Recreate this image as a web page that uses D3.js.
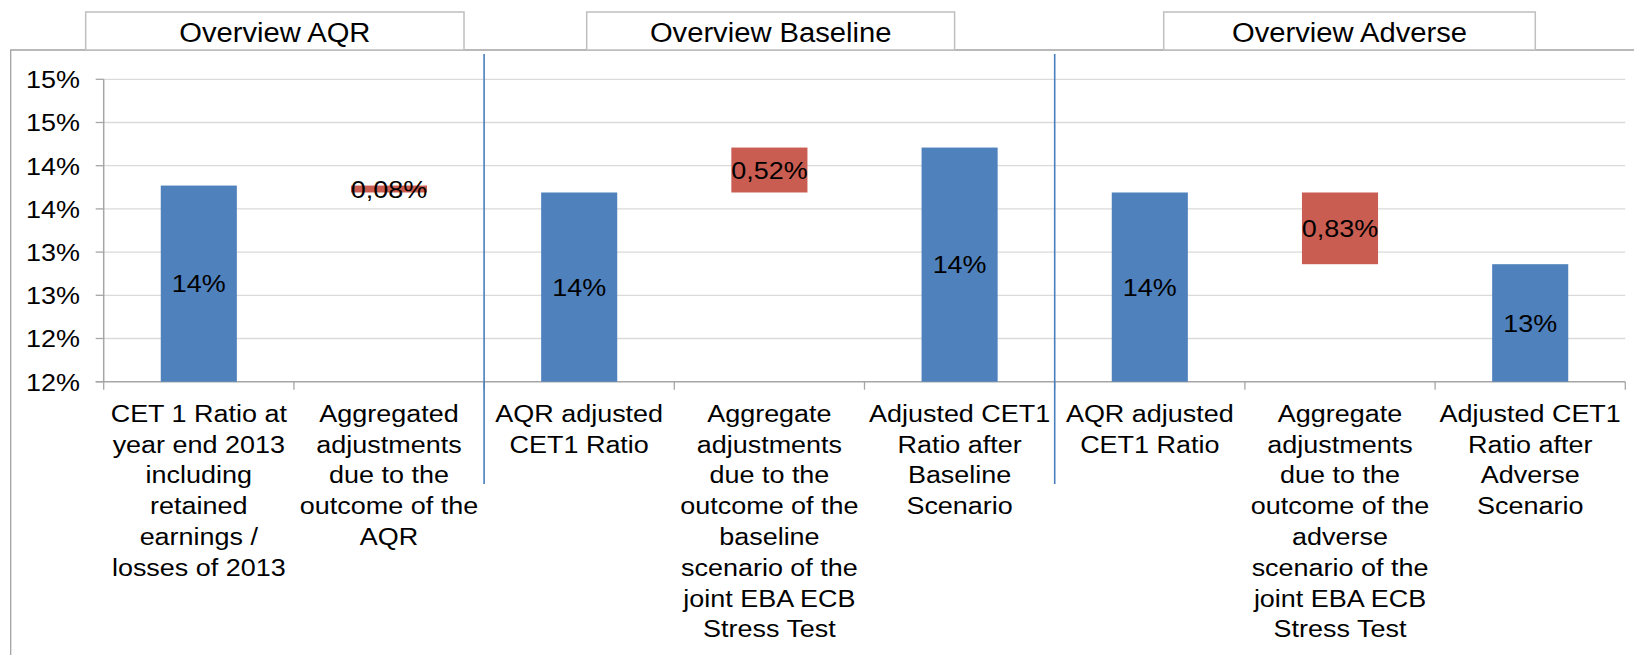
<!DOCTYPE html>
<html>
<head>
<meta charset="utf-8">
<script src="https://cdn.jsdelivr.net/npm/d3@7"></script>
<style>
  html, body { margin: 0; padding: 0; background: #fff; }
  svg { display: block; font-family: "Liberation Sans", Arial, Helvetica, sans-serif; }
</style>
</head>
<body>
<svg id="chart" width="1634" height="655"></svg>
<script>
// CET1 ratio walk: starting ratio, AQR adjustment, then baseline and adverse stress outcomes (in %)
const categories = [
  ["CET 1 Ratio at", "year end 2013", "including", "retained", "earnings /", "losses of 2013"],
  ["Aggregated", "adjustments", "due to the", "outcome of the", "AQR"],
  ["AQR adjusted", "CET1 Ratio"],
  ["Aggregate", "adjustments", "due to the", "outcome of the", "baseline", "scenario of the", "joint EBA ECB", "Stress Test"],
  ["Adjusted CET1", "Ratio after", "Baseline", "Scenario"],
  ["AQR adjusted", "CET1 Ratio"],
  ["Aggregate", "adjustments", "due to the", "outcome of the", "adverse", "scenario of the", "joint EBA ECB", "Stress Test"],
  ["Adjusted CET1", "Ratio after", "Adverse", "Scenario"]
];
// level bars (null where the step is an adjustment)
const totals = [13.77, null, 13.69, null, 14.21, 13.69, null, 12.86];
// adjustment bars, measured from the preceding level
const deltas = [null, -0.08, null, 0.52, null, null, -0.83, null];
// each adjustment starts from this level column
const deltaFrom = [null, 0, null, 2, null, null, 5, null];

const yTickValues = [11.5, 12.0, 12.5, 13.0, 13.5, 14.0, 14.5, 15.0];
const yTickLabels = ["12%", "12%", "13%", "13%", "14%", "14%", "15%", "15%"];

const panelTitles = ["Overview AQR", "Overview Baseline", "Overview Adverse"];
const panelBoxes = [[85.7, 464], [586.7, 954.6], [1163.7, 1535.3]];
// separators sit after these category counts
const separatorsAfter = [2, 5];

const BLUE = "#4F81BD", RED = "#CA5D51";
const svg = d3.select("#chart");

const x = d3.scaleBand().domain(d3.range(categories.length))
  .range([103.7, 1625.3]).paddingInner(0.6).paddingOuter(0.3);
const y = d3.scaleLinear().domain([11.5, 15.0]).range([381.7, 79.3]);
const x0 = x.range()[0], step = x.step();

// text drawn with a slight horizontal stretch
function stretchedText(g, tx, ty, str, size, anchor, sx) {
  return g.append("text")
    .attr("transform", `translate(${tx},${ty}) scale(${sx},1)`)
    .attr("text-anchor", anchor)
    .attr("font-size", size)
    .attr("fill", "#000")
    .text(str);
}

// chart frame
svg.append("path")
  .attr("d", "M10.7,660 V50 H1640")
  .attr("fill", "none").attr("stroke", "#a3a3a3").attr("stroke-width", 1.3);

// gridlines
svg.append("g").selectAll("line")
  .data(yTickValues.slice(1))
  .join("line")
  .attr("x1", x0).attr("x2", x.range()[1])
  .attr("y1", d => y(d)).attr("y2", d => y(d))
  .attr("stroke", "#dadada").attr("stroke-width", 1.3);

// y axis
const yAxis = svg.append("g");
yAxis.append("line")
  .attr("x1", x0).attr("x2", x0).attr("y1", y(15.0)).attr("y2", y(11.5))
  .attr("stroke", "#a6a6a6").attr("stroke-width", 1.5);
yAxis.selectAll("line.tick")
  .data(yTickValues).join("line").attr("class", "tick")
  .attr("x1", x0 - 8).attr("x2", x0)
  .attr("y1", d => y(d)).attr("y2", d => y(d))
  .attr("stroke", "#a6a6a6").attr("stroke-width", 1.3);
yTickValues.forEach((v, i) => {
  stretchedText(yAxis, 80, y(v) + 8.8, yTickLabels[i], 24.5, "end", 1.1);
});

// x axis
const xAxis = svg.append("g");
xAxis.append("line")
  .attr("x1", x0 - 8).attr("x2", x.range()[1]).attr("y1", y(11.5)).attr("y2", y(11.5))
  .attr("stroke", "#a6a6a6").attr("stroke-width", 1.5);
xAxis.selectAll("line.tick")
  .data(d3.range(categories.length + 1)).join("line").attr("class", "tick")
  .attr("x1", i => x0 + i * step).attr("x2", i => x0 + i * step)
  .attr("y1", y(11.5)).attr("y2", y(11.5) + 8)
  .attr("stroke", "#a6a6a6").attr("stroke-width", 1.3);
categories.forEach((lines, i) => {
  const cx = x(i) + x.bandwidth() / 2;
  lines.forEach((ln, k) => {
    stretchedText(xAxis, cx, y(11.5) + 40 + k * 30.8, ln, 24.5, "middle", 1.1);
  });
});

// level bars
const levels = totals.map((v, i) => ({ i, v })).filter(d => d.v !== null);
svg.append("g").selectAll("rect")
  .data(levels).join("rect")
  .attr("x", d => x(d.i)).attr("width", x.bandwidth())
  .attr("y", d => y(d.v)).attr("height", d => y(11.5) - y(d.v))
  .attr("fill", BLUE);

// adjustment bars
const steps = deltas.map((v, i) => ({ i, v, from: deltaFrom[i] !== null ? totals[deltaFrom[i]] : null }))
  .filter(d => d.v !== null);
svg.append("g").selectAll("rect")
  .data(steps).join("rect")
  .attr("x", d => x(d.i)).attr("width", x.bandwidth())
  .attr("y", d => y(Math.max(d.from, d.from + d.v)))
  .attr("height", d => Math.abs(y(d.from) - y(d.from + d.v)))
  .attr("fill", RED);

// value labels
const labels = svg.append("g");
levels.forEach(d => {
  const cy = (y(d.v) + y(11.5)) / 2;
  stretchedText(labels, x(d.i) + x.bandwidth() / 2, cy + 8.8, Math.round(d.v) + "%", 24.5, "middle", 1.1);
});
steps.forEach(d => {
  const cy = (y(d.from) + y(d.from + d.v)) / 2;
  const txt = d3.format(".2f")(Math.abs(d.v)).replace(".", ",") + "%";
  stretchedText(labels, x(d.i) + x.bandwidth() / 2, cy + 8.8, txt, 24.5, "middle", 1.1);
});

// scenario separators
svg.append("g").selectAll("line")
  .data(separatorsAfter).join("line")
  .attr("x1", n => x0 + n * step).attr("x2", n => x0 + n * step)
  .attr("y1", 54).attr("y2", 484)
  .attr("stroke", "#4A7EBB").attr("stroke-width", 1.6);

// panel titles
const titles = svg.append("g");
panelTitles.forEach((t, i) => {
  const [l, r] = panelBoxes[i];
  titles.append("rect")
    .attr("x", l).attr("y", 12).attr("width", r - l).attr("height", 38)
    .attr("fill", "#fff").attr("stroke", "#bfbfbf").attr("stroke-width", 1.5);
  stretchedText(titles, (l + r) / 2, 42, t, 27, "middle", 1.08);
});
</script>
</body>
</html>
